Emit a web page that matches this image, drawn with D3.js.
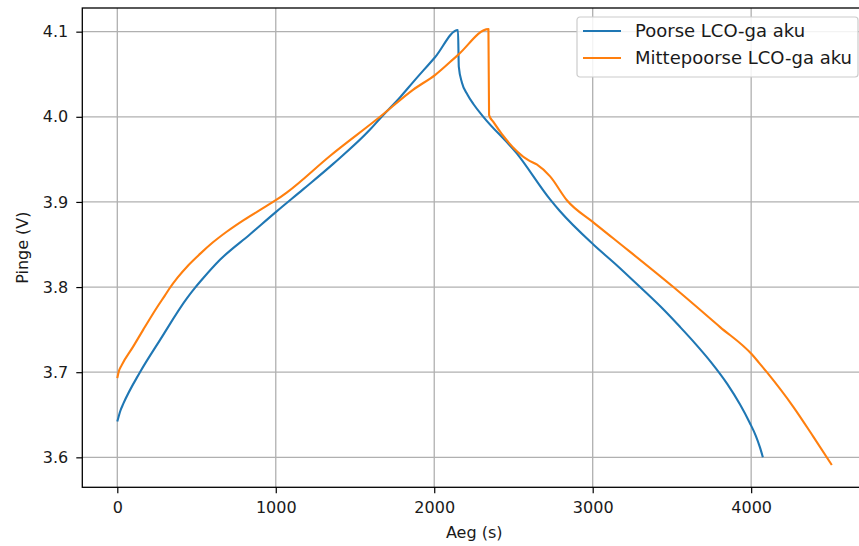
<!DOCTYPE html>
<html>
<head>
<meta charset="utf-8">
<script src="https://cdn.jsdelivr.net/npm/d3@7"></script>
<style>
  html, body { margin: 0; padding: 0; background: #fff; }
  svg { display: block; }
  text { font-family: "DejaVu Sans", sans-serif; fill: #1a1a1a; }
</style>
</head>
<body>
<svg id="chart" width="859" height="546"></svg>
<script>
// ---- data ----
const seriesNames = ["Poorse LCO-ga aku", "Mittepoorse LCO-ga aku"];
const seriesColors = ["#1f77b4", "#ff7f0e"];

const poorseTime = [0, 20, 38, 143, 270, 440, 490, 540, 648, 838, 1000, 1174, 1364, 1595, 1658, 1785, 1868, 2005, 2150,
  2155, 2175, 2210, 2247, 2310, 2521, 2731, 2794, 3004, 3150, 3299, 3450, 3552, 3650, 3750, 3850, 3930, 3990, 4030, 4055, 4074];
const poorseVoltage = [3.642, 3.655, 3.663, 3.700, 3.738, 3.787, 3.799, 3.810, 3.832, 3.862, 3.888, 3.915, 3.945, 3.985, 3.998, 4.023, 4.041, 4.070, 4.102,
  4.059, 4.040, 4.026, 4.015, 4.000, 3.957, 3.903, 3.889, 3.850, 3.826, 3.800, 3.773, 3.753, 3.733, 3.711, 3.686, 3.662, 3.641, 3.625, 3.612, 3.600];

const mittepoorseTime = [0, 8, 27, 100, 164, 250, 300, 328, 380, 450, 522, 600, 690, 800, 922, 1000, 1069, 1342, 1658, 1868, 2005, 2152, 2342,
  2346, 2373, 2594, 2647, 2731, 2837, 3004, 3131, 3509, 3804, 4004, 4050, 4099, 4267, 4393, 4509];
const mittepoorseVoltage = [3.693, 3.700, 3.708, 3.730, 3.750, 3.776, 3.790, 3.798, 3.811, 3.826, 3.839, 3.852, 3.865, 3.879, 3.893, 3.902, 3.911, 3.954, 4.000, 4.032, 4.049, 4.073, 4.103,
  4.002, 3.994, 3.949, 3.944, 3.930, 3.902, 3.876, 3.857, 3.800, 3.753, 3.721, 3.711, 3.700, 3.659, 3.624, 3.591];

const xTicks = [0, 1000, 2000, 3000, 4000];
const yTicks = [3.6, 3.7, 3.8, 3.9, 4.0, 4.1];
const xLabel = "Aeg (s)";
const yLabel = "Pinge (V)";

// ---- layout ----
const pLeft = 82.3, pRight = 867, pTop = 8, pBottom = 487.3;
const svg = d3.select("#chart");

const x = d3.scaleLinear().domain([-220.9, 4731]).range([pLeft, pRight]);
const y = d3.scaleLinear().domain([3.5648, 4.1278]).range([pBottom, pTop]);

// grid
const grid = svg.append("g");
grid.selectAll("line.gx").data(xTicks).join("line")
  .attr("x1", d => x(d)).attr("x2", d => x(d)).attr("y1", pTop).attr("y2", pBottom)
  .attr("stroke", "#b0b0b0").attr("stroke-width", 1.3);
grid.selectAll("line.gy").data(yTicks).join("line")
  .attr("y1", d => y(d)).attr("y2", d => y(d)).attr("x1", pLeft).attr("x2", pRight)
  .attr("stroke", "#b0b0b0").attr("stroke-width", 1.3);

// lines
const series = [
  { name: seriesNames[0], color: seriesColors[0], data: poorseTime.map((t, i) => [t, poorseVoltage[i]]) },
  { name: seriesNames[1], color: seriesColors[1], data: mittepoorseTime.map((t, i) => [t, mittepoorseVoltage[i]]) }
];
const line = d3.line().x(d => x(d[0])).y(d => y(d[1])).curve(d3.curveMonotoneX);
svg.append("g").selectAll("path").data(series).join("path")
  .attr("d", d => line(d.data))
  .attr("fill", "none").attr("stroke", d => d.color).attr("stroke-width", 2.1)
  .attr("stroke-linejoin", "round");

// axes
const xAxis = d3.axisBottom(x).tickValues(xTicks).tickFormat(d3.format("d")).tickSize(6).tickPadding(8);
const yAxis = d3.axisLeft(y).tickValues(yTicks).tickFormat(d3.format(".1f")).tickSize(6).tickPadding(8);
const gx = svg.append("g").attr("transform", `translate(0,${pBottom})`).call(xAxis);
const gy = svg.append("g").attr("transform", `translate(${pLeft},0)`).call(yAxis);
[gx, gy].forEach(g => {
  g.select(".domain").remove();
  g.selectAll(".tick line").attr("stroke", "#000").attr("stroke-width", 1.2);
  g.selectAll(".tick text").attr("font-size", 16).attr("font-family", "DejaVu Sans").attr("fill", "#1a1a1a");
});

// spines
svg.append("rect").attr("x", pLeft).attr("y", pTop).attr("width", pRight - pLeft).attr("height", pBottom - pTop)
  .attr("fill", "none").attr("stroke", "#000").attr("stroke-width", 1.3);

// axis labels
svg.append("text").attr("x", x(2000) + 40).attr("y", 538).attr("text-anchor", "middle")
  .attr("font-size", 16).text(xLabel);
svg.append("text").attr("transform", `translate(28,${(pTop + pBottom) / 2}) rotate(-90)`)
  .attr("text-anchor", "middle").attr("font-size", 16).text(yLabel);

// legend
const lg = svg.append("g").attr("transform", "translate(577,17)");
lg.append("rect").attr("width", 281).attr("height", 60).attr("rx", 3)
  .attr("fill", "#fff").attr("fill-opacity", 0.85).attr("stroke", "#cccccc").attr("stroke-width", 1.2);
series.forEach((s, i) => {
  const yy = 14 + i * 27;
  lg.append("line").attr("x1", 6).attr("x2", 44).attr("y1", yy).attr("y2", yy)
    .attr("stroke", s.color).attr("stroke-width", 2.1);
  lg.append("text").attr("x", 58).attr("y", yy).attr("dy", "0.36em")
    .attr("font-size", 18).text(s.name);
});
</script>
</body>
</html>
